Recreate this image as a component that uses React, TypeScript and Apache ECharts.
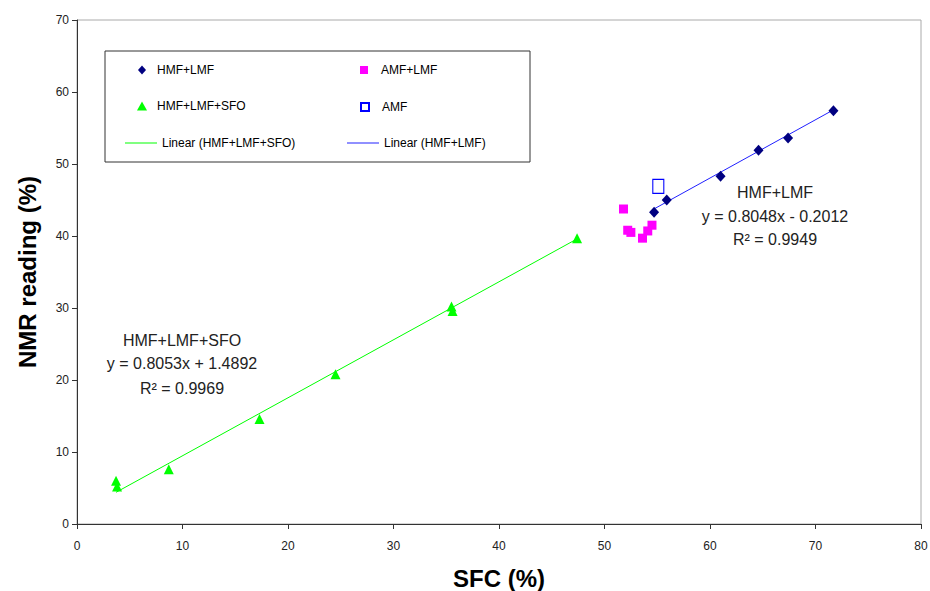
import React, { useEffect, useRef } from 'react';
import * as echarts from 'echarts';

const FONT = '"Liberation Sans", Arial, sans-serif';

// Series data (SFC %, NMR reading %)
const hmfLmf: [number, number][] = [
  [54.7, 43.3], [55.9, 45.0], [61.0, 48.3], [64.6, 51.9], [67.4, 53.6], [71.7, 57.4],
];
const amfLmf: [number, number][] = [
  [51.8, 43.75], [52.2, 40.8], [52.5, 40.5], [53.6, 39.7], [54.1, 40.7], [54.5, 41.5],
];
const hmfLmfSfo: [number, number][] = [
  [3.7, 6.0], [3.8, 5.2], [8.7, 7.6], [17.3, 14.6], [24.5, 20.8], [35.5, 30.2], [35.6, 29.6], [47.4, 39.7],
];
const amf: [number, number][] = [[55.1, 46.9]];
const trendSfo: [number, number][] = [[3.7, 4.4], [47.4, 39.6]];
const trendHmf: [number, number][] = [[54.5, 43.6], [71.8, 57.6]];

const xRange = [0, 80];
const yRange = [0, 70];
const tickStep = 10;

const eqSfo = ['HMF+LMF+SFO', 'y = 0.8053x + 1.4892', 'R² = 0.9969'];
const eqHmf = ['HMF+LMF', 'y = 0.8048x - 0.2012', 'R² = 0.9949'];

function leg(name: string, left: number, top: number, itemWidth: number, itemHeight: number, padLeft: number, extra: any = {}) {
  return {
    data: [name],
    left,
    top,
    itemWidth,
    itemHeight,
    itemGap: 0,
    padding: 0,
    selectedMode: false,
    textStyle: { fontSize: 12, color: '#000', fontFamily: FONT, padding: [0, 0, 0, padLeft] },
    ...extra,
  };
}

function eqText(lines: string[], cx: number, ys: number[]) {
  return lines.map((t, i) => ({
    type: 'text',
    x: cx,
    y: ys[i],
    style: {
      text: t,
      fontSize: 16,
      fontFamily: FONT,
      fill: '#222',
      align: 'center',
      verticalAlign: 'middle',
    },
  }));
}

export default function App() {
  const ref = useRef<HTMLDivElement>(null);
  useEffect(() => {
    document.body.style.margin = '0';
    const chart = echarts.init(ref.current!, null, { renderer: 'svg' });
    const axisCommon = {
      type: 'value',
      interval: tickStep,
      splitLine: { show: false },
      axisLine: { show: true, lineStyle: { color: '#333', width: 1 } },
      axisTick: { show: true, length: 5, lineStyle: { color: '#333' } },
      nameLocation: 'middle',
      nameTextStyle: { fontSize: 24, fontWeight: 'bold', color: '#000', fontFamily: FONT },
    };
    chart.setOption({
      animation: false,
      backgroundColor: '#fff',
      textStyle: { fontFamily: FONT },
      grid: {
        left: 77, right: 9, top: 20, bottom: 67,
        containLabel: false, outerBoundsMode: 'none',
        show: true, borderColor: '#aaa', borderWidth: 1,
      },
      xAxis: {
        ...axisCommon,
        min: xRange[0],
        max: xRange[1],
        name: 'SFC (%)',
        nameGap: 42,
        axisLabel: { margin: 16, fontSize: 12, color: '#222', fontFamily: FONT },
      },
      yAxis: {
        ...axisCommon,
        min: yRange[0],
        max: yRange[1],
        name: 'NMR reading (%)',
        nameGap: 38,
        axisLabel: { margin: 8, fontSize: 12, color: '#222', fontFamily: FONT },
      },
      legend: [
        leg('HMF+LMF', 138, 64, 8, 9, 6),
        leg('AMF+LMF', 360, 64, 8, 8, 8),
        leg('HMF+LMF+SFO', 137, 100, 10, 9, 5),
        leg('AMF', 360, 101, 8, 8, 8),
        leg('Linear (HMF+LMF+SFO)', 125, 137, 32, 1, 0, { icon: 'rect', symbolKeepAspect: false }),
        leg('Linear (HMF+LMF)', 347, 137, 32, 1, 0, { icon: 'rect', symbolKeepAspect: false }),
      ],
      graphic: [
        {
          type: 'rect',
          shape: { x: 105, y: 51, width: 425, height: 111 },
          style: { fill: 'none', stroke: '#333', lineWidth: 1 },
        },
        ...eqText(eqSfo, 182, [340, 363, 388]),
        ...eqText(eqHmf, 775, [192, 216, 239]),
      ],
      series: [
        {
          name: 'Linear (HMF+LMF+SFO)',
          type: 'line',
          data: trendSfo,
          symbol: 'none',
          lineStyle: { color: '#00ff00', width: 1 },
          itemStyle: { color: '#00ff00' },
          z: 1,
        },
        {
          name: 'Linear (HMF+LMF)',
          type: 'line',
          data: trendHmf,
          symbol: 'none',
          lineStyle: { color: '#2020ff', width: 1 },
          itemStyle: { color: '#2020ff' },
          z: 1,
        },
        {
          name: 'HMF+LMF+SFO',
          type: 'scatter',
          data: hmfLmfSfo,
          symbol: 'triangle',
          symbolSize: 10,
          itemStyle: { color: '#00ff00', opacity: 1 },
          z: 3,
        },
        {
          name: 'AMF+LMF',
          type: 'scatter',
          data: amfLmf,
          symbol: 'rect',
          symbolSize: 9,
          itemStyle: { color: '#ff00ff', opacity: 1 },
          z: 3,
        },
        {
          name: 'HMF+LMF',
          type: 'scatter',
          data: hmfLmf,
          symbol: 'diamond',
          symbolSize: [10, 11],
          itemStyle: { color: '#000080', opacity: 1 },
          z: 3,
        },
        {
          name: 'AMF',
          type: 'scatter',
          data: amf,
          symbol: 'rect',
          symbolSize: [11, 14],
          itemStyle: { color: 'rgba(255,255,255,0)', borderColor: '#0000ff', borderWidth: 1.2, opacity: 1 },
          z: 3,
        },
      ],
    });
    return () => chart.dispose();
  }, []);
  return <div ref={ref} style={{ width: 930, height: 591 }} />;
}
